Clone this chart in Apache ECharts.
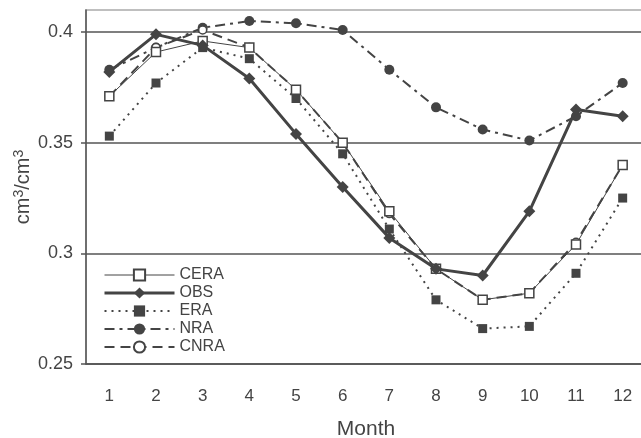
<!DOCTYPE html>
<html>
<head>
<meta charset="utf-8">
<script src="https://cdn.jsdelivr.net/npm/echarts@6/dist/echarts.min.js"></script>
<style>
  html, body { margin: 0; padding: 0; background: #fff; }
  #chart { width: 641px; height: 438px; }
</style>
</head>
<body>
<div id="chart"></div>
<script>
// Données
const months = ['1', '2', '3', '4', '5', '6', '7', '8', '9', '10', '11', '12'];
const yTicks = [0.25, 0.3, 0.35, 0.4];

const cera = [0.371, 0.391, 0.396, 0.393, 0.374, 0.350, 0.319, 0.293, 0.279, 0.282, 0.304, 0.340];
const obs  = [0.382, 0.399, 0.394, 0.379, 0.354, 0.330, 0.307, 0.293, 0.290, 0.319, 0.365, 0.362];
const era  = [0.353, 0.377, 0.393, 0.388, 0.370, 0.345, 0.311, 0.279, 0.266, 0.267, 0.291, 0.325];
const nra  = [0.383, 0.393, 0.402, 0.405, 0.404, 0.401, 0.383, 0.366, 0.356, 0.351, 0.362, 0.377];
const cnra = [0.371, 0.393, 0.401, 0.393, 0.374, 0.350, 0.318, 0.293, 0.279, 0.282, 0.305, 0.340];

const ink = '#444';
const font = 'Liberation Sans, Arial, sans-serif';

function ligne(name, data, opts) {
    return {
        name: name,
        type: 'line',
        data: data,
        symbol: opts.symbol,
        symbolSize: opts.size,
        lineStyle: { color: ink, width: opts.width, type: opts.dash },
        itemStyle: {
            color: opts.hollow ? '#fff' : ink,
            borderColor: ink,
            borderWidth: opts.hollow ? 1.5 : 0
        },
        emphasis: { disabled: true },
        z: opts.z
    };
}

const chart = echarts.init(document.getElementById('chart'));

chart.setOption({
    animation: false,
    textStyle: { fontFamily: font },
    grid: {
        left: 86, top: 10, width: 560, bottom: 74,
        outerBoundsMode: 'none',
        containLabel: false,
        show: true, borderColor: '#aaa', borderWidth: 1.5
    },
    legend: {
        orient: 'vertical',
        left: 98, top: 262,
        itemWidth: 70, itemHeight: 14, itemGap: 2,
        lineStyle: { width: 'inherit' },
        textStyle: { fontSize: 16, color: ink, fontFamily: font },
        data: ['CERA', 'OBS', 'ERA', 'NRA', 'CNRA']
    },
    xAxis: {
        type: 'category',
        data: months,
        boundaryGap: true,
        name: 'Month',
        nameLocation: 'middle',
        nameGap: 55,
        nameMoveOverlap: false,
        nameTextStyle: { fontSize: 21, color: ink },
        axisLine: { lineStyle: { color: '#555', width: 1.5 } },
        axisTick: { alignWithLabel: false, length: 5, lineStyle: { color: '#555', width: 1.5 } },
        axisLabel: { fontSize: 17, color: ink, margin: 24 },
        splitLine: { show: false }
    },
    yAxis: {
        type: 'value',
        min: 0.25, max: 0.41,
        name: '{m|cm}{s|3}{m|/cm}{s|3}',
        nameLocation: 'middle',
        nameRotate: 90,
        nameGap: 52,
        nameMoveOverlap: false,
        nameTextStyle: {
            fontSize: 20,
            rich: {
                m: { fontSize: 20, color: ink, fontFamily: font },
                s: { fontSize: 14, color: ink, fontFamily: font, verticalAlign: 'top', padding: [0, 0, 8, 0] }
            }
        },
        axisLine: { show: true, lineStyle: { color: '#555', width: 1.5 } },
        axisTick: { show: true, length: 5, customValues: yTicks, lineStyle: { color: '#555', width: 1.5 } },
        axisLabel: { fontSize: 18, color: ink, margin: 13, customValues: yTicks },
        splitLine: { show: true, lineStyle: { color: '#555', width: 1.5 } }
    },
    series: [
        ligne('CERA', cera, { symbol: 'rect', size: 9, width: 1, dash: 'solid', hollow: true, z: 4 }),
        ligne('OBS', obs, { symbol: 'diamond', size: 12, width: 3, dash: 'solid', hollow: false, z: 5 }),
        ligne('ERA', era, { symbol: 'rect', size: 9, width: 2, dash: [2, 5], hollow: false, z: 3 }),
        ligne('NRA', nra, { symbol: 'circle', size: 10, width: 2, dash: [10, 5, 3, 5], hollow: false, z: 3 }),
        ligne('CNRA', cnra, { symbol: 'circle', size: 8, width: 2, dash: [10, 6], hollow: true, z: 3 })
    ]
});
</script>
</body>
</html>
